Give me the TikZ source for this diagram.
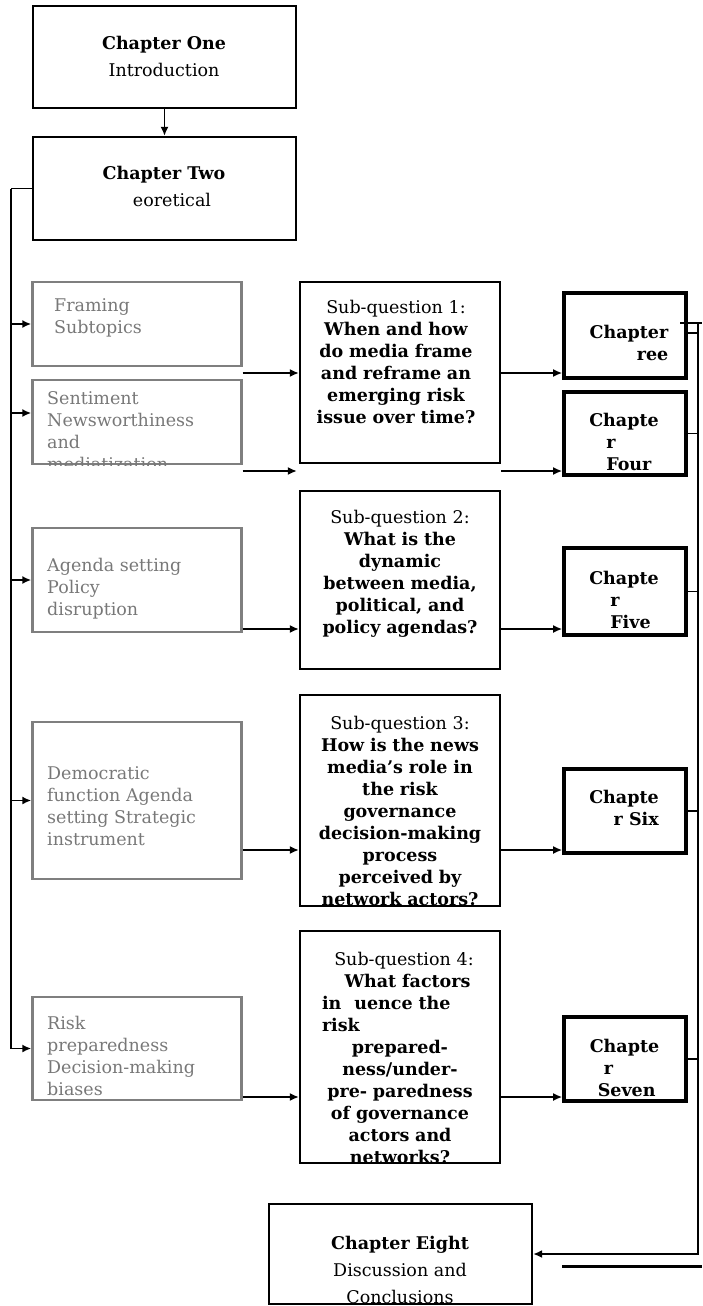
\documentclass[tikz,border=0pt]{standalone}
\usepackage{fontspec}
\setmainfont{DejaVu Serif}
\usetikzlibrary{positioning,arrows.meta}
\definecolor{fwgray}{HTML}{7F7F7F}
\definecolor{fwtext}{HTML}{787878}

\begin{document}
\begin{tikzpicture}[x=1pt,y=-1pt,font=\fontsize{17.5}{22}\selectfont,
  box/.style={draw,inner sep=0pt,line width=2.2pt},
  chapbox/.style={box,minimum width=263pt},
  topicbox/.style={box,draw=fwgray,line width=2.4pt,minimum width=209pt},
  qbox/.style={box,minimum width=200pt},
  numbox/.style={box,line width=3.6pt,minimum width=122pt},
  chaptext/.style={align=center,inner sep=0pt},
  topictext/.style={align=left,inner sep=0pt,text=fwtext,anchor=west},
  qtext/.style={align=center,text width=190pt,inner sep=0pt},
  numtext/.style={inner sep=0pt,font=\fontsize{17.5}{22}\selectfont\bfseries},
  link/.style={line width=1.8pt},
  arr/.style={link,-{Latex[length=9pt,width=8pt]}}]
  \useasboundingbox (0,0) rectangle (702,1306);

  % boxes
  \node[chapbox,minimum height=102pt] (c1) at (164.5,57) {};
  \node[chapbox,minimum height=103pt] (c2) at (164.5,188.5) {};
  \node[topicbox,minimum height=84pt] (frame) at (137,324) {};
  \node[topicbox,minimum height=84pt] (senti) at (137,422) {};
  \node[topicbox,minimum height=104pt] (agenda) at (137,580) {};
  \node[topicbox,minimum height=157pt] (demo) at (137,800.5) {};
  \node[topicbox,minimum height=103pt] (risk) at (137,1048.5) {};
  \node[qbox,minimum height=181pt] (q1) at (400,372.5) {};
  \node[qbox,minimum height=178pt] (q2) at (400,580) {};
  \node[qbox,minimum height=211pt] (q3) at (400,800.5) {};
  \node[qbox,minimum height=232pt] (q4) at (400,1047) {};
  \node[numbox,minimum height=85pt] (c3) at (625,335.5) {};
  \node[numbox,minimum height=83pt] (c4) at (625,433.5) {};
  \node[numbox,minimum height=87pt] (c5) at (625,591.5) {};
  \node[numbox,minimum height=84pt] (c6) at (625,811) {};
  \node[numbox,minimum height=84pt] (c7) at (625,1059) {};
  \node[chapbox,minimum height=100pt] (c8) at (400.5,1254) {};

  % texts
  \node[chaptext] (t1) at (164,56) {\textbf{Chapter One}\\[5pt]Introduction};
  \node[chaptext] (t2) at (164,186.5) {\textbf{Chapter Two}\\[5pt]\hspace*{16pt}eoretical};
  \node[chaptext] (t8) at (400,1270) {\textbf{Chapter Eight}\\[5pt]Discussion and\\[5pt]Conclusions};
  \node[topictext] (tframe) at (54,318) {Framing\\Subtopics};
  \begin{scope}
    \clip (senti.south west) rectangle (senti.north east);
    \node[topictext] (tsenti) at (47,431) {Sentiment\\Newsworthiness\\and\\mediatization};
  \end{scope}
  \node[topictext] (tagenda) at (47,589) {Agenda setting\\Policy\\disruption};
  \node[topictext] (tdemo) at (47,806) {Democratic\\function Agenda\\setting Strategic\\instrument};
  \node[topictext] (trisk) at (47,1056) {Risk\\preparedness\\Decision-making\\biases};

  \node[qtext] (tq1) at (396,361.5) {Sub-question 1:\\\bfseries When and how\\do media frame\\and reframe an\\emerging risk\\issue over time?};
  \node[qtext] (tq2) at (400,573.5) {Sub-question 2:\\\bfseries What is the\\dynamic\\between media,\\political, and\\policy agendas?};
  \begin{scope}
    \clip (q3.south west) rectangle (q3.north east);
    \node[qtext] (tq3) at (400,810.5) {Sub-question 3:\\\bfseries How is the news\\media’s role in\\the risk\\governance\\decision-making\\process\\perceived by\\network actors?};
  \end{scope}
  \begin{scope}
    \clip (q4.south west) rectangle (q4.north east);
    \node[qtext] (tq4) at (400,1057.5) {\hspace*{8pt}Sub-question 4:\\\bfseries\hspace*{15pt}What factors\\\makebox[156pt][l]{in\hspace*{13pt}uence the}\\\makebox[156pt][l]{risk}\\prepared-\\ness/under-\\pre- paredness\\of governance\\actors and\\networks?};
  \end{scope}

  \node[numtext,align=right] (t3) at (629,343) {Chapter\\ree};
  \node[numtext,align=left] (t4) at (624,441.5) {Chapte\\\hspace*{17pt}r\\\hspace*{17pt}Four};
  \node[numtext,align=left] (t5) at (624,599.5) {Chapte\\\hspace*{21pt}r\\\hspace*{21pt}Five};
  \node[numtext,align=right] (t6) at (624,808) {Chapte\\r Six};
  \node[numtext,align=left] (t7) at (624.5,1068) {Chapte\\\hspace*{14pt}r\\\hspace*{8pt}Seven};

  % rows of the arrows
  \coordinate (r0) at (0,333);
  \coordinate (r1) at (0,373);
  \coordinate (r2) at (0,471);
  \coordinate (r3) at (0,629);
  \coordinate (r4) at (0,850);
  \coordinate (r5) at (0,1097);

  % connectors
  \draw[arr] (c1) -- (c2);
  \coordinate (tl) at ([xshift=-21pt]c2.west);
  \coordinate (sa) at ([yshift=9pt]senti.west);
  \draw[link] (c2.west) -- (tl);
  \draw[arr] (tl) |- (risk.west);
  \draw[arr] (tl |- frame.west) -- (frame.west);
  \draw[arr] (tl |- sa) -- (sa);
  \draw[arr] (tl |- agenda.west) -- (agenda.west);
  \draw[arr] (tl |- demo.west) -- (demo.west);

  \draw[arr] (frame.east |- r1) -- (q1.west |- r1);
  \draw[arr] (senti.east |- r2) -- ([xshift=-2pt]q1.west |- r2);
  \draw[arr] (q1.east |- r1) -- (c3.west |- r1);
  \draw[arr] (q1.east |- r2) -- (c4.west |- r2);
  \draw[arr] (agenda.east |- r3) -- (q2.west |- r3);
  \draw[arr] (q2.east |- r3) -- (c5.west |- r3);
  \draw[arr] (demo.east |- r4) -- (q3.west |- r4);
  \draw[arr] (q3.east |- r4) -- (c6.west |- r4);
  \draw[arr] (risk.east |- r5) -- (q4.west |- r5);
  \draw[arr] (q4.east |- r5) -- (c7.west |- r5);

  \coordinate (rt) at (698,323);
  \draw[link] ([xshift=-18pt]rt) -- ([xshift=4pt]rt);
  \draw[link] (c3.east |- r0) -- (rt |- r0);
  \draw[arr] (rt) |- (c8.east);
  \foreach \c in {c4,c5,c6,c7}
    \draw[link] (\c.east) -- (rt |- \c.east);
  \coordinate (s1) at (562,1266);
  \coordinate (s2) at (702,1266);
  \draw[line width=3pt] (s1) -- (s2);
\end{tikzpicture}
\end{document}
